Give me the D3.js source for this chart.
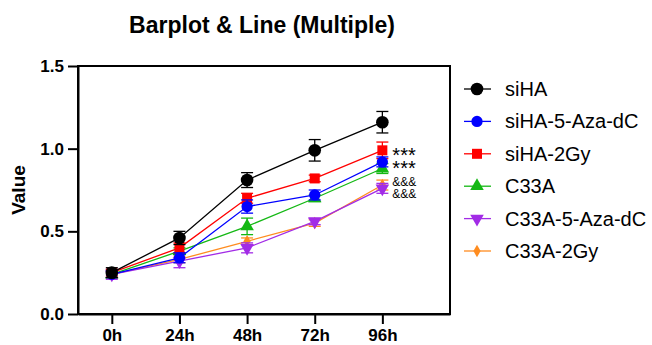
<!DOCTYPE html>
<html>
<head>
<meta charset="utf-8">
<script src="https://cdn.jsdelivr.net/npm/d3@7"></script>
<style>
  body { margin: 0; background: #fff; }
  text { font-family: "Liberation Sans", Arial, sans-serif; }
</style>
</head>
<body>
<svg id="chart" width="652" height="345"></svg>
<script>
// time points on the x axis
const times = ['0h', '24h', '48h', '72h', '96h']
const yTicks = [0.0, 0.5, 1.0, 1.5]

// group names, means and error (SD)
const groups = ['siHA', 'siHA-5-Aza-dC', 'siHA-2Gy', 'C33A', 'C33A-5-Aza-dC', 'C33A-2Gy']
const siHA = [0.25, 0.46, 0.81, 0.99, 1.16]
const siHAErr = [0.03, 0.04, 0.045, 0.065, 0.065]
const siHAAza = [0.24, 0.34, 0.65, 0.72, 0.92]
const siHAAzaErr = [0.02, 0.03, 0.04, 0.03, 0.03]
const siHA2Gy = [0.25, 0.40, 0.70, 0.82, 0.99]
const siHA2GyErr = [0.02, 0.03, 0.03, 0.02, 0.05]
const c33a = [0.24, 0.38, 0.53, 0.70, 0.88]
const c33aErr = [0.02, 0.02, 0.05, 0.02, 0.03]
const c33aAza = [0.24, 0.32, 0.40, 0.56, 0.76]
const c33aAzaErr = [0.03, 0.04, 0.03, 0.02, 0.03]
const c33a2Gy = [0.24, 0.33, 0.44, 0.55, 0.78]
const c33a2GyErr = [0.02, 0.02, 0.02, 0.02, 0.03]

// significance marks right of the 96h points (level = where they sit on the y scale)
const markTexts = ['***', '***', '&&&', '&&&']
const markLevels = [0.985, 0.905, 0.80, 0.725]

const colors = ['#000000', '#0000ff', '#ff0000', '#14b814', '#a22be6', '#ff8c1f']
const shapes = [d3.symbolCircle, d3.symbolCircle, d3.symbolSquare, d3.symbolTriangle, d3.symbolTriangle, d3.symbolDiamond]
const sizes = [125, 100, 100, 80, 80, 45]

const series = groups.map((g, i) => ({
  name: g,
  values: [siHA, siHAAza, siHA2Gy, c33a, c33aAza, c33a2Gy][i],
  errs: [siHAErr, siHAAzaErr, siHA2GyErr, c33aErr, c33aAzaErr, c33a2GyErr][i],
  color: colors[i], shape: shapes[i], size: sizes[i], flip: i == 4
}))

const margin = {top: 66, right: 202, bottom: 31, left: 78}
const width = 652, height = 345

const svg = d3.select('#chart')

// x is linear over the index so the box can run past the last tick
const x = d3.scaleLinear().domain([-0.5, 5]).range([margin.left, width - margin.right])
const y = d3.scaleLinear().domain([0, 1.5]).range([height - margin.bottom, margin.top])

// frame (top + right)
svg.append('rect')
  .attr('x', x(-0.5)).attr('y', y(1.5))
  .attr('width', x(5) - x(-0.5)).attr('height', y(0) - y(1.5))
  .attr('fill', 'none').attr('stroke', '#000').attr('stroke-width', 2)

const xAxis = svg.append('g')
  .attr('transform', `translate(0,${y(0)})`)
  .call(d3.axisBottom(x).tickValues(d3.range(times.length)).tickFormat(i => times[i]).tickSize(10).tickSizeOuter(0))
const yAxis = svg.append('g')
  .attr('transform', `translate(${x(-0.5)},0)`)
  .call(d3.axisLeft(y).tickValues(yTicks).tickFormat(d3.format('.1f')).tickSize(10).tickSizeOuter(0))

;[xAxis, yAxis].forEach(a => {
  a.select('.domain').attr('stroke-width', 2)
  a.selectAll('.tick line').attr('stroke-width', 2)
  a.selectAll('.tick text')
    .attr('font-family', '"Liberation Sans", Arial, sans-serif')
    .attr('font-size', 17).attr('font-weight', 'bold').attr('fill', '#000')
})
xAxis.selectAll('.tick text').attr('dy', '0.82em')
yAxis.selectAll('.tick text').attr('dx', '-1px')

// title and axis label
svg.append('text')
  .attr('x', 262).attr('y', 33)
  .attr('text-anchor', 'middle')
  .attr('font-size', 23).attr('font-weight', 'bold')
  .text('Barplot & Line (Multiple)')

svg.append('text')
  .attr('transform', `translate(25,${(y(0) + y(1.5)) / 2}) rotate(-90)`)
  .attr('text-anchor', 'middle')
  .attr('font-size', 19).attr('font-weight', 'bold')
  .text('Value')

const line = d3.line().x((d, i) => x(i)).y(d => y(d))

// draw the groups back to front so siHA sits on top
const layer = svg.append('g')
series.slice().reverse().forEach(s => {
  const g = layer.append('g')
  g.append('path')
    .datum(s.values)
    .attr('d', line)
    .attr('fill', 'none').attr('stroke', s.color).attr('stroke-width', 1.3)

  const err = g.selectAll('.err').data(s.values).enter().append('g')
  err.append('line')
    .attr('x1', (d, i) => x(i)).attr('x2', (d, i) => x(i))
    .attr('y1', (d, i) => y(d - s.errs[i])).attr('y2', (d, i) => y(d + s.errs[i]))
    .attr('stroke', s.color).attr('stroke-width', 1.3)
  ;[-1, 1].forEach(sign => {
    err.append('line')
      .attr('x1', (d, i) => x(i) - 6).attr('x2', (d, i) => x(i) + 6)
      .attr('y1', (d, i) => y(d + sign * s.errs[i])).attr('y2', (d, i) => y(d + sign * s.errs[i]))
      .attr('stroke', s.color).attr('stroke-width', 1.3)
  })

  g.selectAll('.pt').data(s.values).enter().append('path')
    .attr('d', d3.symbol().type(s.shape).size(s.size))
    .attr('transform', (d, i) => `translate(${x(i)},${y(d)})${s.flip ? ' rotate(180)' : ''}`)
    .attr('fill', s.color)
})

// significance marks
markTexts.forEach((t, i) => {
  const star = t == '***'
  svg.append('text')
    .attr('x', x(4) + 10)
    .attr('y', y(markLevels[i]) + (star ? 11 : 4))
    .attr('font-size', star ? 20 : 12)
    .text(t)
})

// legend
const legend = svg.append('g')
series.forEach((s, i) => {
  const ly = 89 + i * 32.4
  legend.append('line')
    .attr('x1', 464).attr('x2', 491).attr('y1', ly).attr('y2', ly)
    .attr('stroke', s.color).attr('stroke-width', 1.3)
  legend.append('path')
    .attr('d', d3.symbol().type(s.shape).size(s.size))
    .attr('transform', `translate(477,${ly})${s.flip ? ' rotate(180)' : ''}`)
    .attr('fill', s.color)
  legend.append('text')
    .attr('x', 505).attr('y', ly + 7)
    .attr('font-size', 20)
    .text(s.name)
})
</script>
</body>
</html>
